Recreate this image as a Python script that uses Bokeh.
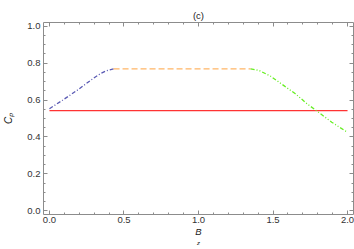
from bokeh.plotting import figure
from bokeh.models import Range1d, LinearAxis, FixedTicker, PrintfTickFormatter
from bokeh.embed import file_html
from bokeh.resources import INLINE

# ---- data ----
red_bz = [0.0, 2.0]
red_cp = [0.543, 0.543]

blue_bz = [0.0, 0.09, 0.19, 0.29, 0.34, 0.38, 0.43]
blue_cp = [0.553, 0.600, 0.655, 0.715, 0.742, 0.758, 0.769]

orange_bz = [0.43, 1.35]
orange_cp = [0.769, 0.769]

green_bz = [1.35, 1.407, 1.484, 1.573, 1.650, 1.728, 1.810, 1.894, 1.982, 2.0]
green_cp = [0.769, 0.760, 0.729, 0.678, 0.634, 0.580, 0.531, 0.480, 0.434, 0.425]

x_major = [0.0, 0.5, 1.0, 1.5, 2.0]
x_minor = [round(i * 0.1, 2) for i in range(0, 21)]
y_major = [0.0, 0.2, 0.4, 0.6, 0.8, 1.0]
y_minor = [round(i * 0.05, 2) for i in range(0, 21)]

title_text = "(c)"
xlabel_main, xlabel_sub = "B", "z"
ylabel_text = "C\u209a"  # C with subscript p

FONT = "Liberation Sans"
FRAME = "#8c8c8c"
TICKLBL = "#333333"
LBL = "#222222"

p = figure(width=354, height=249,
           x_range=Range1d(-0.04, 2.04), y_range=Range1d(-0.02, 1.02),
           output_backend="svg", toolbar_location=None,
           min_border_left=40, min_border_right=1,
           min_border_top=22, min_border_bottom=35)
p.grid.visible = False
p.outline_line_color = None
p.background_fill_color = "white"
p.border_fill_color = "white"


def style(ax, labels=True):
    ax.axis_line_color = FRAME
    ax.axis_line_width = 1
    ax.major_tick_line_color = FRAME
    ax.minor_tick_line_color = FRAME
    ax.major_tick_in = 4
    ax.major_tick_out = 0
    ax.minor_tick_in = 2
    ax.minor_tick_out = 0
    ax.major_label_text_font = FONT
    ax.major_label_text_color = TICKLBL
    ax.formatter = PrintfTickFormatter(format="%.1f")
    if labels:
        ax.major_label_text_font_size = "9.5px"
        ax.major_label_standoff = 3
    else:
        ax.major_label_text_font_size = "0px"
        ax.major_label_text_color = None
        ax.major_label_standoff = 0


p.xaxis[0].ticker = FixedTicker(ticks=x_major, minor_ticks=x_minor)
p.yaxis[0].ticker = FixedTicker(ticks=y_major, minor_ticks=y_minor)
style(p.xaxis[0])
style(p.yaxis[0])
p.xaxis[0].major_label_standoff = 2

# y label on the main left axis
p.yaxis[0].axis_label = ylabel_text
p.yaxis[0].axis_label_text_font = FONT
p.yaxis[0].axis_label_text_font_style = "italic"
p.yaxis[0].axis_label_text_font_size = "10px"
p.yaxis[0].axis_label_text_color = LBL
p.yaxis[0].axis_label_standoff = 10

top_ax = LinearAxis(ticker=FixedTicker(ticks=x_major, minor_ticks=x_minor))
right_ax = LinearAxis(ticker=FixedTicker(ticks=y_major, minor_ticks=y_minor))
style(top_ax, labels=False)
style(right_ax, labels=False)
top_ax.axis_label = title_text
top_ax.axis_label_text_font = FONT
top_ax.axis_label_text_font_size = "9.5px"
top_ax.axis_label_text_font_style = "normal"
top_ax.axis_label_text_color = LBL
top_ax.axis_label_standoff = 2
p.add_layout(top_ax, "above")
p.add_layout(right_ax, "right")


def label_axis(text, size, standoff, bounds):
    ax = LinearAxis(ticker=FixedTicker(ticks=[], minor_ticks=[]), bounds=bounds)
    ax.axis_line_color = None
    ax.major_tick_line_color = None
    ax.minor_tick_line_color = None
    ax.major_tick_in = 0
    ax.major_tick_out = 0
    ax.minor_tick_in = 0
    ax.minor_tick_out = 0
    ax.major_label_text_font_size = "0px"
    ax.major_label_standoff = 0
    ax.axis_label = text
    ax.axis_label_text_font = FONT
    ax.axis_label_text_font_style = "italic"
    ax.axis_label_text_font_size = size
    ax.axis_label_text_color = LBL
    ax.axis_label_standoff = standoff
    return ax


p.add_layout(label_axis(xlabel_main, "9.5px", 0, (0.96, 1.00)), "below")
p.add_layout(label_axis(xlabel_sub, "6px", 0, (1.005, 1.045)), "below")

# ---- curves ----
p.line(red_bz, red_cp, line_color="#ff3333", line_width=1.3)
p.line(blue_bz, blue_cp, line_color="#5a5ab4", line_width=1.3, line_dash="4 2 1 2")
p.line(orange_bz, orange_cp, line_color="#ffb566", line_width=1.3, line_dash="6 3")
p.line(green_bz, green_cp, line_color="#66ee22", line_width=1.3, line_dash="4 2 1 2 1 2")

open("out.html", "w").write(file_html(p, INLINE))
